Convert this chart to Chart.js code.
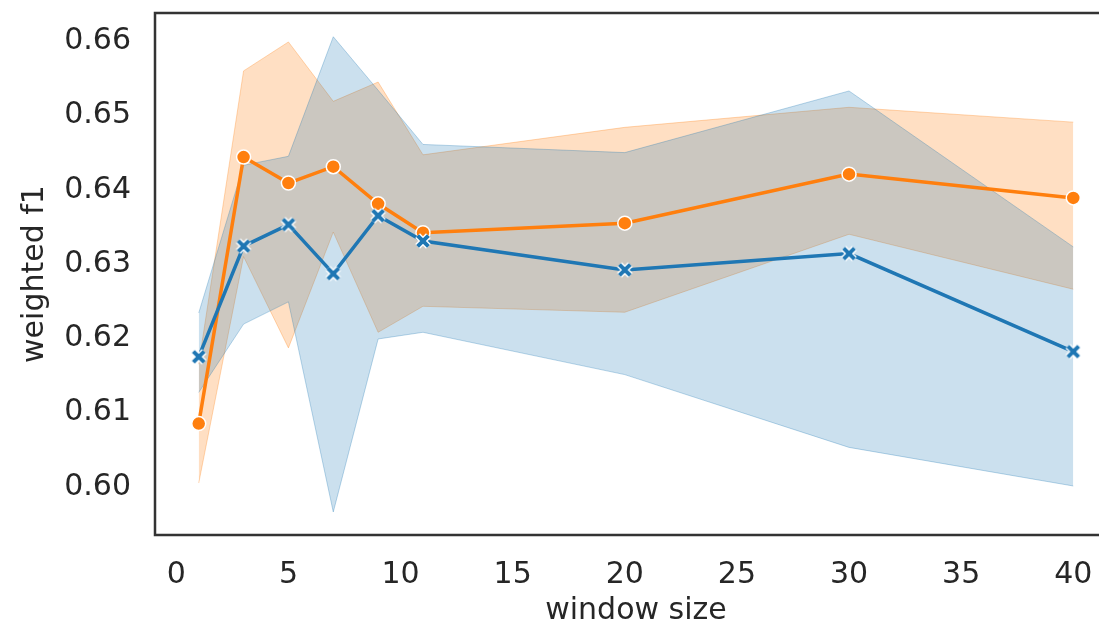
<!DOCTYPE html>
<html>
<head>
<meta charset="utf-8">
<script src="https://cdn.jsdelivr.net/npm/chart.js@4/dist/chart.umd.min.js"></script>
<style>
  html, body { margin: 0; padding: 0; background: #fff; overflow: hidden; }
  #wrap { position: absolute; left: 0; top: 0; width: 1130px; height: 630px; }
</style>
</head>
<body>
<div id="wrap"><canvas id="f1Chart" width="1130" height="630"></canvas></div>
<script>
// window sizes on the x axis
const windowSizes = [1, 3, 5, 7, 9, 11, 20, 30, 40];

// blue series (x markers): mean and band
const blueMean  = [0.6175, 0.6324, 0.6353, 0.6287, 0.6365, 0.6331, 0.6292, 0.6314, 0.6182];
const blueUpper = [0.6234, 0.6433, 0.6445, 0.6606, 0.6534, 0.6461, 0.6450, 0.6533, 0.6323];
const blueLower = [0.6127, 0.6219, 0.6249, 0.5966, 0.6199, 0.6208, 0.6151, 0.6053, 0.6001];

// orange series (circle markers): mean and band
const orangeMean  = [0.6085, 0.6444, 0.6409, 0.6431, 0.6381, 0.6342, 0.6355, 0.6421, 0.6389];
const orangeUpper = [0.6165, 0.6560, 0.6599, 0.6519, 0.6545, 0.6447, 0.6484, 0.6511, 0.6491];
const orangeLower = [0.6005, 0.6310, 0.6187, 0.6343, 0.6208, 0.6243, 0.6235, 0.6340, 0.6266];

const xTicks = [0, 5, 10, 15, 20, 25, 30, 35, 40];
const yTicks = [0.60, 0.61, 0.62, 0.63, 0.64, 0.65, 0.66];

const BLUE = '#1f77b4';
const ORANGE = '#ff7f0e';
const TEXT = '#262626';
const FONT = "'DejaVu Sans', sans-serif";

function pts(ys) {
  return windowSizes.map((x, i) => ({ x: x, y: ys[i] }));
}

// filled X marker with a white edge, like matplotlib's "X"
function makeXMarker() {
  const c = document.createElement('canvas');
  c.width = 20; c.height = 20;
  const g = c.getContext('2d');
  g.lineCap = 'butt';
  const arm = 5.4;
  function cross(w, col) {
    g.strokeStyle = col;
    g.lineWidth = w;
    g.beginPath();
    g.moveTo(10 - arm, 10 - arm); g.lineTo(10 + arm, 10 + arm);
    g.moveTo(10 + arm, 10 - arm); g.lineTo(10 - arm, 10 + arm);
    g.stroke();
  }
  cross(6.8, '#ffffff');
  cross(4, BLUE);
  return c;
}
const xMarker = makeXMarker();

// spines: left, top, bottom (right one lies outside the picture)
const framePlugin = {
  id: 'frame',
  afterDraw(chart) {
    const a = chart.chartArea;
    const ctx = chart.ctx;
    ctx.save();
    ctx.strokeStyle = '#333333';
    ctx.lineWidth = 2.5;
    ctx.beginPath();
    ctx.moveTo(a.right, a.top);
    ctx.lineTo(a.left, a.top);
    ctx.lineTo(a.left, a.bottom);
    ctx.lineTo(a.right, a.bottom);
    ctx.stroke();
    ctx.restore();
  }
};

const bandLine = {
  pointRadius: 0,
  pointHoverRadius: 0,
  borderWidth: 1,
  tension: 0
};

new Chart("f1Chart", {
  type: "line",
  data: {
    datasets: [{
      label: 'blue',
      data: pts(blueMean),
      borderColor: BLUE,
      borderWidth: 3.5,
      pointStyle: xMarker,
      pointRadius: 8,
      fill: false
    }, {
      label: 'orange',
      data: pts(orangeMean),
      borderColor: ORANGE,
      backgroundColor: ORANGE,
      borderWidth: 3.5,
      pointStyle: 'circle',
      pointRadius: 7,
      pointBorderColor: '#ffffff',
      pointBorderWidth: 1.5,
      pointBackgroundColor: ORANGE,
      fill: false
    }, {
      ...bandLine,
      label: 'blue hi',
      data: pts(blueUpper),
      borderColor: 'rgba(31,119,180,0.3)',
      backgroundColor: 'rgba(31,119,180,0.23)',
      fill: '+1'
    }, {
      ...bandLine,
      label: 'blue lo',
      data: pts(blueLower),
      borderColor: 'rgba(31,119,180,0.3)',
      fill: false
    }, {
      ...bandLine,
      label: 'orange hi',
      data: pts(orangeUpper),
      borderColor: 'rgba(255,127,14,0.3)',
      backgroundColor: 'rgba(255,127,14,0.25)',
      fill: '+1'
    }, {
      ...bandLine,
      label: 'orange lo',
      data: pts(orangeLower),
      borderColor: 'rgba(255,127,14,0.3)',
      fill: false
    }]
  },
  options: {
    responsive: false,
    animation: false,
    devicePixelRatio: 1,
    layout: { padding: { top: 13, right: 13, left: 0, bottom: 0 } },
    plugins: {
      legend: { display: false },
      tooltip: { enabled: false }
    },
    scales: {
      x: {
        type: 'linear',
        min: -0.95,
        max: 41.95,
        afterBuildTicks: (s) => { s.ticks = xTicks.map(v => ({ value: v })); },
        afterFit: (s) => { s.height = 95; s.paddingLeft = 0; s.paddingRight = 0; },
        grid: { display: false, drawTicks: false },
        border: { display: false },
        ticks: { color: TEXT, font: { family: FONT, size: 30 }, padding: 22, maxRotation: 0 },
        title: { display: true, text: 'window size', color: TEXT, font: { family: FONT, size: 30 }, padding: { top: 0, bottom: 1 } }
      },
      y: {
        min: 0.5935,
        max: 0.6638,
        afterBuildTicks: (s) => { s.ticks = yTicks.map(v => ({ value: v })); },
        afterFit: (s) => { s.width = 155; s.paddingTop = 0; s.paddingBottom = 0; },
        grid: { display: false, drawTicks: false },
        border: { display: false },
        ticks: { color: TEXT, font: { family: FONT, size: 30 }, padding: 24, callback: (v) => v.toFixed(2) },
        title: { display: true, text: 'weighted f1', color: TEXT, font: { family: FONT, size: 30 }, padding: { top: 17, bottom: 0 } }
      }
    }
  },
  plugins: [framePlugin]
});
</script>
</body>
</html>
